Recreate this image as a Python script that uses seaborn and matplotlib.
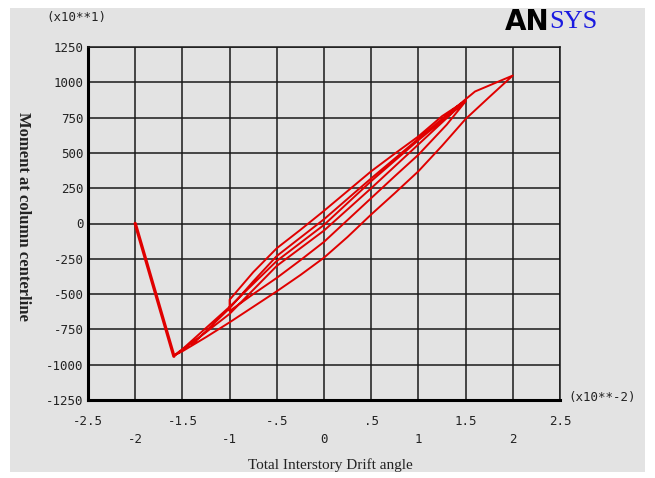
import numpy as np
import pandas as pd
import matplotlib
matplotlib.use("Agg")
import matplotlib.pyplot as plt
import seaborn as sns
from matplotlib.patches import Rectangle

# ---- data (drift in x10**-2, moment in x10**1) ----
start_drift = [-2.0, -1.59]
start_moment = [0, -940]

branch_b_drift = [-1.59, -1.45, -1.25, -1.0, -0.75, -0.5, -0.25, 0.0, 0.25, 0.5, 0.75, 1.0, 1.25, 1.5]
branch_b_moment = [-940, -870, -770, -640, -470, -300, -175, -50, 100, 250, 405, 560, 715, 870]

branch_c_drift = [1.25, 1.0, 0.75, 0.5, 0.25, 0.0, -0.25, -0.5, -0.75, -1.0]
branch_c_moment = [760, 617, 495, 370, 230, 90, -45, -175, -345, -540]

branch_d_drift = [-1.0, -0.75, -0.5, -0.25, 0.0, 0.25, 0.5, 0.75, 1.0, 1.3, 1.5]
branch_d_moment = [-620, -500, -385, -260, -130, 25, 180, 335, 487, 700, 865]

branch_e_drift = [1.0, 0.5, 0.0, -0.5, -1.0, -1.5, -1.59]
branch_e_moment = [590, 300, -10, -265, -590, -890, -935]

branch_f_drift = [-1.5, -1.25, -1.0, -0.75, -0.5, -0.25, 0.0, 0.25, 0.5, 0.75, 1.0, 1.25, 1.5, 1.75, 2.0]
branch_f_moment = [-905, -805, -700, -590, -480, -365, -242, -95, 64, 215, 370, 550, 740, 895, 1048]

branch_g_drift = [1.6, 1.5, 1.25, 1.0, 0.75, 0.5, 0.25, 0.0, -0.25, -0.5, -0.75, -1.0, -1.4]
branch_g_moment = [935, 880, 740, 600, 460, 320, 175, 30, -100, -230, -410, -600, -860]

y_ticks = [-1250, -1000, -750, -500, -250, 0, 250, 500, 750, 1000, 1250]
x_ticks = [-2.5, -2, -1.5, -1, -0.5, 0, 0.5, 1, 1.5, 2, 2.5]
x_labels = ["-2.5", "\n-2", "-1.5", "\n-1", "-.5", "\n0", ".5", "\n1", "1.5", "\n2", "2.5"]

loop_drift = (branch_b_drift + branch_c_drift + branch_d_drift + branch_e_drift
              + branch_f_drift + branch_g_drift)
loop_moment = (branch_b_moment + branch_c_moment + branch_d_moment + branch_e_moment
               + branch_f_moment + branch_g_moment)

df_start = pd.DataFrame({"drift": start_drift, "moment": start_moment})
df_loop = pd.DataFrame({"drift": loop_drift, "moment": loop_moment})

sns.set_style("white")
plt.rcParams["font.family"] = ["DejaVu Sans"]

BG = "#e3e3e3"
RED = "#e00000"
MONO = "DejaVu Sans Mono"
fig = plt.figure(figsize=(6.55, 4.78), dpi=100)
fig.patch.set_facecolor("white")
bg = Rectangle((10 / 655, 6 / 478), 635 / 655, 464 / 478,
               transform=fig.transFigure, facecolor=BG, edgecolor="none", zorder=-10)
fig.add_artist(bg)

ax = fig.add_axes([88 / 655, 1 - 400 / 478, 472 / 655, 353 / 478])
ax.set_zorder(2)
ax.set_facecolor(BG)

sns.lineplot(data=df_loop, x="drift", y="moment", sort=False, estimator=None,
             color=RED, linewidth=1.4, ax=ax, zorder=3)
sns.lineplot(data=df_start, x="drift", y="moment", sort=False, estimator=None,
             color=RED, linewidth=2.4, ax=ax, zorder=3)

ax.set_xlim(-2.5, 2.5)
ax.set_ylim(-1250, 1250)
ax.set_xticks(x_ticks)
ax.set_xticklabels(x_labels, family=MONO, fontsize=9, color="#222222",
                   linespacing=1.45)
ax.set_yticks(y_ticks)
ax.set_yticklabels([str(v) for v in y_ticks], family=MONO, fontsize=9,
                   color="#222222")
ax.tick_params(axis="x", direction="out", length=9, width=1.2, color="#111111", pad=2)
ax.tick_params(axis="y", direction="out", length=2, width=1.0, color="#111111", pad=1)
ax.grid(True, color="#1a1a1a", linewidth=1.1)
ax.set_axisbelow(True)
for side in ["top", "right"]:
    ax.spines[side].set_color("#1a1a1a")
    ax.spines[side].set_linewidth(1.1)
for side in ["left", "bottom"]:
    ax.spines[side].set_color("black")
    ax.spines[side].set_linewidth(2.2)

ax.set_xlabel("")
ax.set_ylabel("")

fig.text(23 / 655, 1 - 216 / 478, "Moment at column centerline", rotation=270,
         ha="center", va="center", family="Liberation Serif", fontsize=12,
         fontweight="bold", color="#222222")
fig.text(330 / 655, 1 - 465 / 478, "Total Interstory Drift angle", ha="center",
         va="center", family="Liberation Serif", fontsize=11, color="#222222")
fig.text(46 / 655, 1 - 18 / 478, "(x10**1)", ha="left", va="center",
         family=MONO, fontsize=9, color="#222222")
fig.text(568 / 655, 1 - 397 / 478, "(x10**-2)", ha="left", va="center",
         family=MONO, fontsize=9, color="#222222")
fig.text(505 / 655, 1 - 22 / 478, "AN", ha="left", va="center",
         family="DejaVu Sans", fontsize=20, fontweight="black", color="black")
fig.text(549 / 655, 1 - 22 / 478, "SYS", ha="left", va="center",
         family="Liberation Serif", fontsize=19, color="#1a1ae0")

fig.savefig("out.png", dpi=100, facecolor="white")
